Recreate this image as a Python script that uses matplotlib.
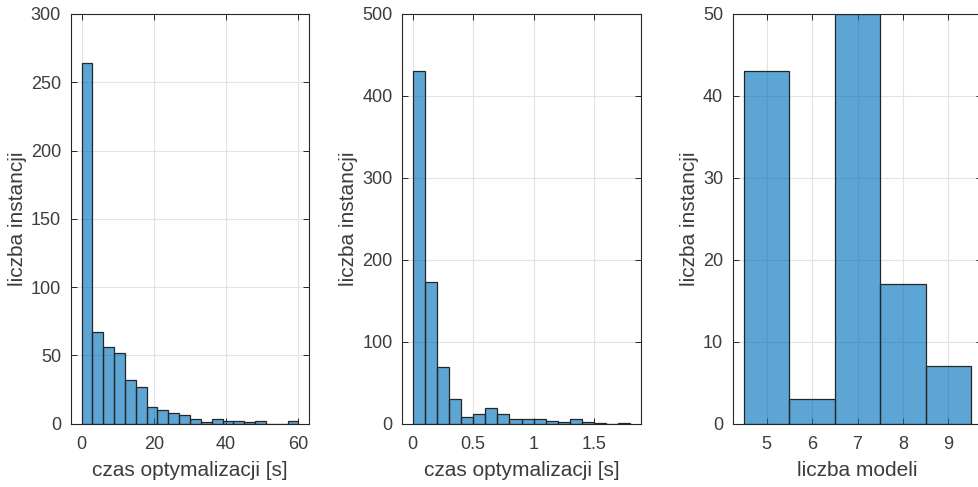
import matplotlib
matplotlib.use("Agg")
import matplotlib.pyplot as plt

plt.rcParams['font.family'] = ['Liberation Sans', 'DejaVu Sans']

# Panel 1: czas optymalizacji [s], bin width 3 s
edges1 = [0, 3, 6, 9, 12, 15, 18, 21, 24, 27, 30, 33, 36, 39, 42, 45, 48, 51, 54, 57, 60]
counts1 = [264, 67, 56, 52, 32, 27, 12, 10, 8, 6, 3, 1, 3, 2, 2, 1, 2, 0, 0, 2]

# Panel 2: czas optymalizacji [s], bin width 0.1 s
edges2 = [0.0, 0.1, 0.2, 0.3, 0.4, 0.5, 0.6, 0.7, 0.8, 0.9, 1.0,
          1.1, 1.2, 1.3, 1.4, 1.5, 1.6, 1.7, 1.8]
counts2 = [431, 173, 69, 30, 8, 12, 19, 11, 6, 5, 5, 3, 2, 5, 2, 1, 0, 1]

# Panel 3: liczba modeli
edges3 = [4.5, 5.5, 6.5, 7.5, 8.5, 9.5]
counts3 = [43, 3, 50, 17, 7]

xticks1 = [0, 20, 40, 60]
xticks2 = [0, 0.5, 1, 1.5]
xticklabels2 = ['0', '0.5', '1', '1.5']
xticks3 = [5, 6, 7, 8, 9]
yticks1 = [0, 50, 100, 150, 200, 250, 300]
yticks2 = [0, 100, 200, 300, 400, 500]
yticks3 = [0, 10, 20, 30, 40, 50]

W, H = 979, 487
fig = plt.figure(figsize=(W / 100, H / 100), dpi=100)

dark = '#262626'
textc = '#3c3c3c'
face = '#0072BD'

def make_ax(left, right, top, bottom):
    return fig.add_axes([left / W, 1 - bottom / H, (right - left) / W, (bottom - top) / H])

def style(ax, edges, counts, xlim, ylim, xticks, yticks, xlabel, ylabel, xticklabels=None):
    widths = [edges[i + 1] - edges[i] for i in range(len(counts))]
    ax.bar(edges[:-1], counts, width=widths, align='edge', color=face, alpha=0.64,
           edgecolor='none', zorder=2)
    ax.bar(edges[:-1], counts, width=widths, align='edge', fill=False,
           edgecolor=dark, linewidth=0.9, zorder=3)
    ax.set_xlim(*xlim)
    ax.set_ylim(*ylim)
    ax.set_xticks(xticks)
    if xticklabels is not None:
        ax.set_xticklabels(xticklabels)
    ax.set_yticks(yticks)
    ax.grid(True, color='#e3e3e3', linewidth=0.8, zorder=0)
    ax.set_axisbelow(True)
    ax.tick_params(direction='in', length=4, width=0.7, colors=dark, labelcolor=textc,
                   labelsize=13, top=True, right=True, pad=7)
    ax.tick_params(axis='x', pad=9)
    for s in ax.spines.values():
        s.set_color(dark)
        s.set_linewidth(0.8)
    ax.set_xlabel(xlabel, fontsize=15, color=textc, labelpad=6)
    ax.set_ylabel(ylabel, fontsize=15, color=textc, labelpad=3)

ax1 = make_ax(70.7, 309.3, 14, 423.5)
style(ax1, edges1, counts1, (-3, 63), (0, 300), xticks1, yticks1,
      'czas optymalizacji [s]', 'liczba instancji')

ax2 = make_ax(402.3, 640.7, 14, 423.5)
style(ax2, edges2, counts2, (-0.086, 1.886), (0, 500), xticks2, yticks2,
      'czas optymalizacji [s]', 'liczba instancji', xticklabels2)

ax3 = make_ax(732.7, 982.4, 14, 423.5)
style(ax3, edges3, counts3, (4.25, 9.75), (0, 50), xticks3, yticks3,
      'liczba modeli', 'liczba instancji')

fig.savefig('out.png', dpi=100)
